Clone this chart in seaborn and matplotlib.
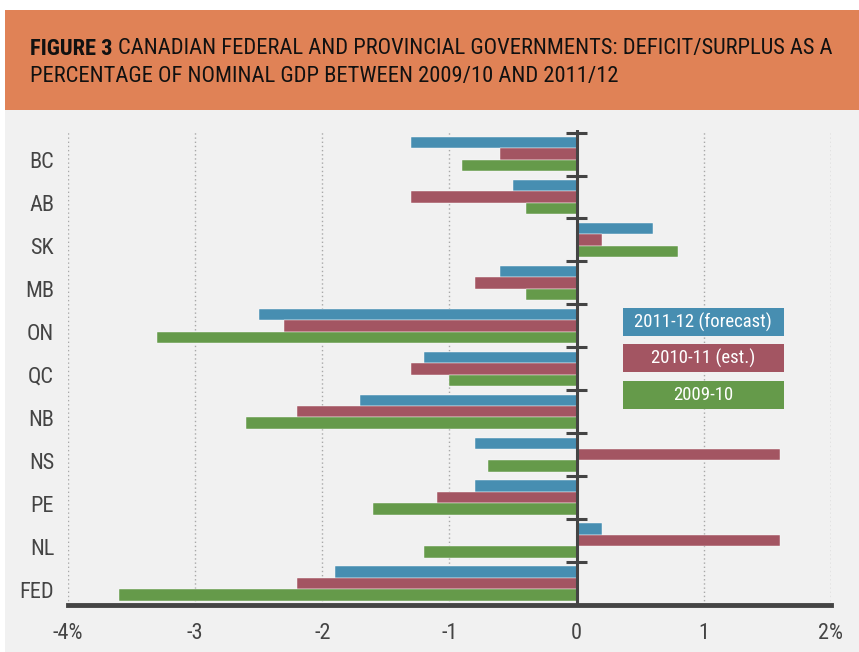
import matplotlib
matplotlib.use("Agg")
import matplotlib.pyplot as plt
import matplotlib.transforms as mtransforms
from matplotlib import font_manager
from matplotlib.patches import Rectangle
import seaborn as sns
import pandas as pd

# --- Data ---
regions = ["BC", "AB", "SK", "MB", "ON", "QC", "NB", "NS", "PE", "NL", "FED"]
forecast_1112 = [-1.3, -0.5, 0.6, -0.6, -2.5, -1.2, -1.7, -0.8, -0.8, 0.2, -1.9]
est_1011 = [-0.6, -1.3, 0.2, -0.8, -2.3, -1.3, -2.2, 1.6, -1.1, 1.6, -2.2]
actual_0910 = [-0.9, -0.4, 0.8, -0.4, -3.3, -1.0, -2.6, -0.7, -1.6, -1.2, -3.6]
series_names = ["2011-12 (forecast)", "2010-11 (est.)", "2009-10"]
x_ticks = [-4, -3, -2, -1, 0, 1, 2]
x_tick_labels = ["-4%", "-3", "-2", "-1", "0", "1", "2%"]

colors = ["#478eb1", "#a35562", "#659a4a"]
BG = "#f1f1f1"
DARK = "#444444"


# --- find a condensed font if the system has one ---
def condensed_font(bold=False):
    want = ["Liberation Sans Narrow", "Roboto Condensed", "Open Sans Condensed",
            "Noto Sans", "DejaVu Sans", "Open Sans", "Roboto", "Lato", "Inter"]
    hits = []
    for f in font_manager.fontManager.ttflist:
        narrow = (str(f.stretch) in ("condensed", "semi-condensed", "extra-condensed")
                  or "Condensed" in f.name or "Narrow" in f.name
                  or "Condensed" in f.fname or "Narrow" in f.fname)
        if not narrow or f.style != "normal":
            continue
        w = f.weight if isinstance(f.weight, int) else (700 if "bold" in str(f.weight) else 400)
        if bold != (w >= 600):
            continue
        if "Semi" in f.fname or "Extra" in f.fname or "Light" in f.fname or "Medium" in f.fname:
            continue
        rank = next((i for i, n in enumerate(want) if f.name.startswith(n)), 99)
        hits.append((rank, f.fname))
    if hits:
        return font_manager.FontProperties(fname=sorted(hits)[0][1])
    return font_manager.FontProperties(family="DejaVu Sans", weight="bold" if bold else "normal")


FP = condensed_font()
FPB = condensed_font(bold=True)

sns.set_theme(style="white")
plt.rcParams["font.family"] = ["DejaVu Sans"]

df = pd.DataFrame({
    "region": regions * 3,
    "value": forecast_1112 + est_1011 + actual_0910,
    "series": [series_names[0]] * 11 + [series_names[1]] * 11 + [series_names[2]] * 11,
})

fig = plt.figure(figsize=(8.59, 6.52), dpi=100, facecolor="white")
fig.patches.append(Rectangle((0.006, 0.0), 0.994, 0.832, transform=fig.transFigure,
                             facecolor=BG, edgecolor="none", zorder=-10))
fig.patches.append(Rectangle((0.006, 0.832), 0.994, 0.153, transform=fig.transFigure,
                             facecolor="#e08256", edgecolor="none", zorder=-10))

ax = fig.add_axes([0.0792, 0.0721, 0.888, 0.7285])
ax.set_facecolor(BG)

sns.barplot(data=df, x="value", y="region", hue="series", order=regions,
            hue_order=series_names, palette=colors, saturation=1, orient="h", width=0.8,
            edgecolor="white", linewidth=0.3, legend=False, ax=ax, zorder=3)

ax.set_xlim(-4, 2)
ax.set_ylim(10.5, -0.56)
for x in x_ticks:
    if x != 0:
        ax.axvline(x, color="#a8a8a8", linestyle=(0, (1, 2)), lw=1, zorder=1)
ax.axvline(0, color=DARK, lw=2.2, zorder=5)
ax.hlines([i - 0.5 for i in range(len(regions))], -0.08, 0.08, color=DARK, lw=2.2, zorder=5)

for s in ["top", "right", "left"]:
    ax.spines[s].set_visible(False)
ax.spines["bottom"].set_color(DARK)
ax.spines["bottom"].set_linewidth(3.5)
ax.spines["bottom"].set_zorder(6)

ax.set_xticks(x_ticks)
ax.set_xticklabels(x_tick_labels)
ax.tick_params(axis="x", length=0, pad=13)
ax.tick_params(axis="y", length=0, pad=10)
offset = mtransforms.ScaledTranslation(0, -6 / 100, fig.dpi_scale_trans)
for lab in ax.get_yticklabels():
    lab.set_fontproperties(FP)
    lab.set_fontsize(16)
    lab.set_color(DARK)
    lab.set_transform(lab.get_transform() + offset)
for lab in ax.get_xticklabels():
    lab.set_fontproperties(FP)
    lab.set_fontsize(16)
    lab.set_color(DARK)
ax.set_xlabel("")
ax.set_ylabel("")

# legend boxes
box_y = [0.566, 0.490, 0.413]
for name, col, y0 in zip(series_names, colors, box_y):
    ax.add_patch(Rectangle((0.727, y0), 0.211, 0.059, transform=ax.transAxes,
                           facecolor=col, edgecolor="none", zorder=7))
    t = ax.text(0.8325, y0 + 0.0295, name, transform=ax.transAxes, ha="center", va="center",
                color="white", fontproperties=FP, zorder=8)
    t.set_fontsize(13.5)

# title, sized so the first line spans about 800 px like the reference
t1 = fig.text(0.035, 0.925, "FIGURE 3", fontproperties=FPB, color="#111111", va="center")
t2 = fig.text(0.2, 0.925, "CANADIAN FEDERAL AND PROVINCIAL GOVERNMENTS: DEFICIT/SURPLUS AS A",
              fontproperties=FP, color="#111111", va="center")
t3 = fig.text(0.035, 0.882, "PERCENTAGE OF NOMINAL GDP BETWEEN 2009/10 AND 2011/12",
              fontproperties=FP, color="#111111", va="center")
size = 19
for _ in range(3):
    for t in (t1, t2, t3):
        t.set_fontsize(size)
    fig.canvas.draw()
    r = fig.canvas.get_renderer()
    w = t1.get_window_extent(r).width + 5 + t2.get_window_extent(r).width
    size = min(size * 800 / w, 22)
for t in (t1, t2, t3):
    t.set_fontsize(size)
fig.canvas.draw()
r = fig.canvas.get_renderer()
t2.set_x(t1.get_window_extent(r).x1 / fig.bbox.width + 5 / fig.bbox.width)

fig.savefig("out.png", dpi=100, facecolor="white")
